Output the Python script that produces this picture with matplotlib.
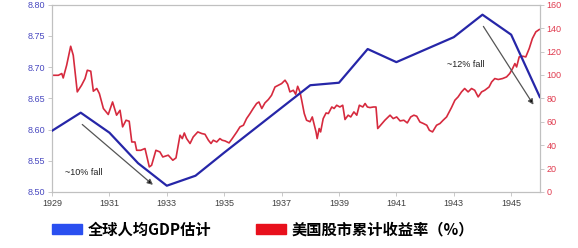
import matplotlib
matplotlib.use("Agg")
import matplotlib.pyplot as plt
from matplotlib.patches import Patch

# global GDP per capita estimate (log scale, left axis)
gdp_years = [1929, 1930, 1931, 1932, 1933, 1934, 1935, 1936, 1937,
             1938, 1939, 1940, 1941, 1942, 1943, 1944, 1945, 1946]
gdp_values = [8.598, 8.627, 8.595, 8.546, 8.510, 8.526, 8.563, 8.599, 8.635,
              8.671, 8.675, 8.729, 8.708, 8.728, 8.748, 8.784, 8.752, 8.652]

# US stock market cumulative return (%), right axis
stock_years = [
    1929.02, 1929.22, 1929.34, 1929.39, 1929.51, 1929.65, 1929.74, 1929.88,
    1930.03, 1930.15, 1930.23, 1930.35, 1930.44, 1930.56, 1930.65, 1930.79, 1930.96,
    1931.11, 1931.25, 1931.37, 1931.46, 1931.58, 1931.69, 1931.78, 1931.89, 1931.95,
    1932.09, 1932.24, 1932.39, 1932.47, 1932.62, 1932.76, 1932.86,
    1933.05, 1933.21, 1933.32, 1933.46, 1933.54, 1933.61, 1933.69, 1933.81, 1933.92,
    1934.08, 1934.22, 1934.33, 1934.45, 1934.54, 1934.62, 1934.74, 1934.85, 1934.93,
    1935.03, 1935.17, 1935.28, 1935.44, 1935.55, 1935.67, 1935.78, 1935.90,
    1936.01, 1936.13, 1936.21, 1936.31, 1936.42, 1936.54, 1936.65, 1936.77, 1936.89,
    1937.00, 1937.12, 1937.21, 1937.29, 1937.41, 1937.49, 1937.56, 1937.64, 1937.70,
    1937.79, 1937.87, 1937.99,
    1938.07, 1938.20, 1938.24, 1938.31, 1938.36, 1938.45, 1938.55, 1938.63, 1938.75,
    1938.83, 1938.92,
    1939.03, 1939.13, 1939.21, 1939.32, 1939.41, 1939.52, 1939.62, 1939.71, 1939.83,
    1939.91, 1939.99,
    1940.08, 1940.20, 1940.29, 1940.35, 1940.45, 1940.60, 1940.78, 1940.89,
    1941.01, 1941.13, 1941.26, 1941.38, 1941.50, 1941.61, 1941.71, 1941.82, 1941.94,
    1942.06, 1942.15, 1942.26, 1942.40, 1942.52, 1942.63, 1942.75, 1942.84, 1942.92,
    1943.04, 1943.15, 1943.27, 1943.38, 1943.50, 1943.62, 1943.73, 1943.85, 1943.97,
    1944.08, 1944.23, 1944.32, 1944.43, 1944.55, 1944.70, 1944.84, 1944.95,
    1945.05, 1945.13, 1945.19, 1945.28, 1945.40, 1945.51, 1945.63, 1945.74, 1945.86,
    1945.98]
stock_values = [
    99.7, 99.7, 101.2, 97.4, 108.3, 124.5, 116.8, 85.5,
    91.2, 96.9, 104.0, 103.2, 86.1, 88.4, 84.1, 71.3, 66.2,
    76.9, 65.6, 69.8, 55.6, 61.3, 60.4, 42.7, 42.7, 35.6,
    35.6, 37.1, 21.4, 22.8, 35.6, 34.2, 29.9,
    31.4, 27.1, 29.1, 48.5, 45.6, 50.4, 45.6, 41.4, 47.0,
    51.3, 49.9, 49.3, 44.2, 41.4, 44.2, 42.7, 45.6, 44.2,
    43.6, 41.9, 45.6, 51.3, 55.6, 57.0, 62.7, 67.0,
    71.3, 75.6, 76.9, 71.3, 76.1, 79.0, 82.6, 89.7, 91.2,
    92.6, 95.5, 92.1, 85.5, 86.9, 83.5, 90.3, 85.5, 78.4,
    67.0, 61.3, 60.0,
    64.1, 51.3, 45.6, 54.2, 51.3, 62.7, 67.5, 67.0, 72.6,
    71.3, 74.1,
    72.6, 74.1, 61.9, 65.6, 64.1, 68.4, 65.6, 74.1, 72.6,
    75.6, 72.6,
    72.1, 72.6, 72.6, 54.2, 57.0, 61.3, 65.6, 62.7,
    64.1, 60.7, 61.3, 59.0, 64.1, 65.6, 64.7, 59.8, 58.5,
    57.0, 52.7, 51.3, 57.0, 58.5, 61.3, 64.1, 68.4, 72.1,
    78.4, 81.2, 85.5, 88.4, 85.5, 88.4, 86.9, 81.2, 85.5,
    86.9, 89.7, 94.0, 96.9, 96.1, 96.9, 98.3, 101.2,
    105.5, 109.7, 106.8, 115.4, 116.0, 115.4, 122.6, 131.1, 136.8,
    138.8]

x_ticks = [1929, 1931, 1933, 1935, 1937, 1939, 1941, 1943, 1945]
left_ticks = [8.50, 8.55, 8.60, 8.65, 8.70, 8.75, 8.80]
right_ticks = [0, 20, 40, 60, 80, 100, 120, 140, 160]

gdp_label = "全球人均GDP估计"
stock_label = "美国股市累计收益率（%）"

BLUE = "#2626a8"
RED = "#d62a3e"
SPINE = "#c0c0c0"

plt.rcParams['font.family'] = ['Liberation Sans', 'DejaVu Sans']

fig, ax = plt.subplots(figsize=(5.78, 2.48), dpi=100)
fig.subplots_adjust(left=0.090, right=0.934, top=0.981, bottom=0.226)
ax2 = ax.twinx()

ax.plot(gdp_years, gdp_values, color=BLUE, lw=1.6, zorder=3)
ax2.plot(stock_years, stock_values, color=RED, lw=1.2)
ax.set_zorder(ax2.get_zorder() + 1)
ax.patch.set_visible(False)

ax.set_xlim(1929, 1946)
ax.set_ylim(8.50, 8.80)
ax2.set_ylim(0, 160)
ax.set_xticks(x_ticks)
ax.set_xticklabels([str(y) for y in x_ticks], fontsize=6.5, color="#404040")
ax.set_yticks(left_ticks)
ax.set_yticklabels(["%.2f" % v for v in left_ticks], fontsize=6.5, color="#4848c0")
ax2.set_yticks(right_ticks)
ax2.set_yticklabels([str(v) for v in right_ticks], fontsize=6.5, color="#e03a4e")

for a in (ax, ax2):
    for s in a.spines.values():
        s.set_color(SPINE)
        s.set_linewidth(0.8)
    a.tick_params(length=3, width=0.6, color=SPINE, pad=2)

# annotations
ax.annotate("", xy=(1932.59, 8.5085), xytext=(1929.98, 8.611),
            arrowprops=dict(arrowstyle="-|>", color="#555555", lw=0.9,
                            mutation_scale=8, fc="black", ec="#555555"))
ax.text(1929.45, 8.531, "~10% fall", fontsize=6.5, va="center", color="#222222")
ax.annotate("", xy=(1945.83, 8.636), xytext=(1943.98, 8.769),
            arrowprops=dict(arrowstyle="-|>", color="#555555", lw=0.9,
                            mutation_scale=8, fc="black", ec="#555555"))
ax.text(1942.76, 8.705, "~12% fall", fontsize=6.5, va="center", color="#222222")

handles = [Patch(color="#2a4ff0"), Patch(color="#e8101c")]
fig.legend(handles, [gdp_label, stock_label], loc="center",
           bbox_to_anchor=(0.455, 0.075), ncol=2, frameon=False,
           prop=dict(family=['Noto Sans CJK SC', 'DejaVu Sans'], weight='bold', size=11),
           handlelength=2.0, handleheight=0.55, handletextpad=0.35,
           columnspacing=2.9, borderpad=0)

fig.savefig("out.png", dpi=100)
